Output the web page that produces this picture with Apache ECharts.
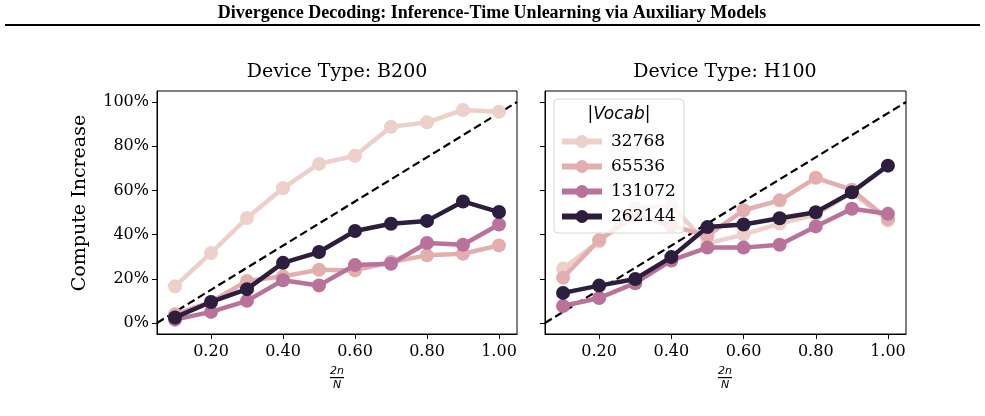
<!DOCTYPE html>
<html>
<head>
    <meta charset="utf-8">
    <title>Device Type compute increase</title>
    <script src="https://cdn.jsdelivr.net/npm/echarts@6.0.0/dist/echarts.min.js"></script>
    <style>
        html, body { margin: 0; padding: 0; background: #fff; }
        #chart { width: 985px; height: 416px; }
    </style>
</head>
<body>
<div id="chart"></div>
<script>
    // x = 2n/N
    const xVals = [0.1, 0.2, 0.3, 0.4, 0.5, 0.6, 0.7, 0.8, 0.9, 1.0];
    const vocab = ['32768', '65536', '131072', '262144'];
    const colors = ['#ecd0c9', '#e2afae', '#b9739a', '#2d1e3e'];
    const xTicks = [0.2, 0.4, 0.6, 0.8, 1.0];
    const yTicks = [0, 0.2, 0.4, 0.6, 0.8, 1.0];
    const diagX = [0.05, 1.05];
    const diagY = [0, 1];

    // compute increase in %, Device Type: B200
    const b200_32768 = [16.6, 31.7, 47.5, 61.0, 72.0, 75.7, 88.8, 90.8, 96.4, 95.6];
    const b200_65536 = [3.9, 9.5, 19.0, 21.1, 24.1, 23.8, 27.6, 30.6, 31.3, 35.1];
    const b200_131072 = [1.5, 5.0, 10.0, 19.3, 17.0, 26.2, 26.8, 36.2, 35.4, 44.6];
    const b200_262144 = [2.5, 9.5, 15.3, 27.2, 32.1, 41.6, 44.9, 46.2, 55.0, 50.2];

    // compute increase in %, Device Type: H100
    const h100_32768 = [24.6, 37.0, 52.0, 53.0, 36.0, 40.0, 45.0, 49.0, 59.0, 46.5];
    const h100_65536 = [20.5, 37.5, 48.5, 44.0, 39.5, 51.0, 55.5, 65.7, 60.3, 47.0];
    const h100_131072 = [7.7, 11.3, 18.0, 28.3, 34.1, 34.1, 35.4, 43.7, 51.7, 49.4];
    const h100_262144 = [13.6, 16.9, 19.9, 29.8, 43.4, 44.6, 47.4, 50.1, 59.2, 71.2];

    const panels = [
        [b200_32768, b200_65536, b200_131072, b200_262144],
        [h100_32768, h100_65536, h100_131072, h100_262144]
    ];

    const serif = 'DejaVu Serif';
    const chart = echarts.init(document.getElementById('chart'));

    const xAxis = [0, 1].map(i => ({
        type: 'value',
        gridIndex: i,
        min: 0.05,
        max: 1.05,
        axisLine: { show: true, onZero: false, lineStyle: { color: '#000', width: 1 } },
        axisTick: { show: true, length: 5, customValues: xTicks, lineStyle: { color: '#000' } },
        axisLabel: {
            customValues: xTicks,
            formatter: v => v.toFixed(2),
            margin: 10,
            color: '#000',
            fontFamily: serif,
            fontSize: 16
        },
        splitLine: { show: false }
    }));

    const yAxis = [0, 1].map(i => ({
        type: 'value',
        gridIndex: i,
        min: -0.05,
        max: 1.05,
        axisLine: { show: true, onZero: false, lineStyle: { color: '#000', width: 1 } },
        axisTick: { show: true, length: 5, customValues: yTicks, lineStyle: { color: '#000' } },
        axisLabel: {
            show: i === 0,
            customValues: yTicks,
            formatter: v => Math.round(v * 100) + '%',
            margin: 8,
            color: '#000',
            fontFamily: serif,
            fontSize: 16
        },
        splitLine: { show: false }
    }));

    const series = [];
    [0, 1].forEach(p => {
        series.push({
            type: 'line',
            xAxisIndex: p,
            yAxisIndex: p,
            data: diagX.map((x, j) => [x, diagY[j]]),
            symbol: 'none',
            silent: true,
            lineStyle: { color: '#000', width: 2.2, type: [8, 4] },
            z: 1
        });
        panels[p].forEach((vals, i) => {
            series.push({
                type: 'line',
                name: vocab[i],
                xAxisIndex: p,
                yAxisIndex: p,
                data: xVals.map((x, j) => [x, vals[j] / 100]),
                symbol: 'circle',
                symbolSize: 14,
                lineStyle: { color: colors[i], width: 4.5 },
                itemStyle: { color: colors[i] },
                emphasis: { disabled: true },
                z: 2 + i
            });
        });
    });

    const option = {
        animation: false,
        grid: [
            { left: 157, top: 91, width: 360, height: 243, show: true, borderColor: '#000', borderWidth: 1 },
            { left: 545, top: 91, width: 361, height: 243, show: true, borderColor: '#000', borderWidth: 1 }
        ],
        xAxis: xAxis,
        yAxis: yAxis,
        legend: {
            data: vocab,
            orient: 'vertical',
            left: 554,
            top: 99,
            padding: [34, 8, 8, 5],
            itemWidth: 40,
            itemHeight: 16,
            itemGap: 8,
            lineStyle: { width: 6 },
            backgroundColor: 'rgba(255,255,255,0.8)',
            borderColor: '#d6d6d6',
            borderWidth: 1,
            borderRadius: 4,
            textStyle: { fontFamily: serif, fontSize: 17, color: '#000', padding: [0, 0, 0, 4] },
            z: 10
        },
        series: series,
        graphic: [
            {
                type: 'text', x: 492, y: 13,
                style: {
                    text: 'Divergence Decoding: Inference-Time Unlearning via Auxiliary Models',
                    align: 'center', verticalAlign: 'middle',
                    font: 'bold 18px "Liberation Serif"', fill: '#000'
                }
            },
            { type: 'rect', shape: { x: 5, y: 24, width: 975, height: 2 }, style: { fill: '#000' } },
            {
                type: 'text', x: 337, y: 72,
                style: { text: 'Device Type: B200', align: 'center', verticalAlign: 'middle', font: '19px "DejaVu Serif"', fill: '#000' }
            },
            {
                type: 'text', x: 725, y: 72,
                style: { text: 'Device Type: H100', align: 'center', verticalAlign: 'middle', font: '19px "DejaVu Serif"', fill: '#000' }
            },
            {
                type: 'text', x: 80, y: 203, rotation: Math.PI / 2,
                style: { text: 'Compute Increase', align: 'center', verticalAlign: 'middle', font: '19px "DejaVu Serif"', fill: '#000' }
            },
            {
                type: 'text', x: 619, y: 115, z: 20,
                style: { text: '|Vocab|', align: 'center', verticalAlign: 'middle', font: 'italic 17px "DejaVu Sans"', fill: '#000' }
            },
            // x axis name: 2n / N
            { type: 'text', x: 337, y: 371, style: { text: '2n', align: 'center', verticalAlign: 'middle', font: 'italic 11px "DejaVu Sans"', fill: '#000' } },
            { type: 'rect', shape: { x: 330, y: 377, width: 14, height: 1.2 }, style: { fill: '#000' } },
            { type: 'text', x: 337, y: 385, style: { text: 'N', align: 'center', verticalAlign: 'middle', font: 'italic 11px "DejaVu Sans"', fill: '#000' } },
            { type: 'text', x: 725, y: 371, style: { text: '2n', align: 'center', verticalAlign: 'middle', font: 'italic 11px "DejaVu Sans"', fill: '#000' } },
            { type: 'rect', shape: { x: 718, y: 377, width: 14, height: 1.2 }, style: { fill: '#000' } },
            { type: 'text', x: 725, y: 385, style: { text: 'N', align: 'center', verticalAlign: 'middle', font: 'italic 11px "DejaVu Sans"', fill: '#000' } }
        ]
    };

    chart.setOption(option);
</script>
</body>
</html>
